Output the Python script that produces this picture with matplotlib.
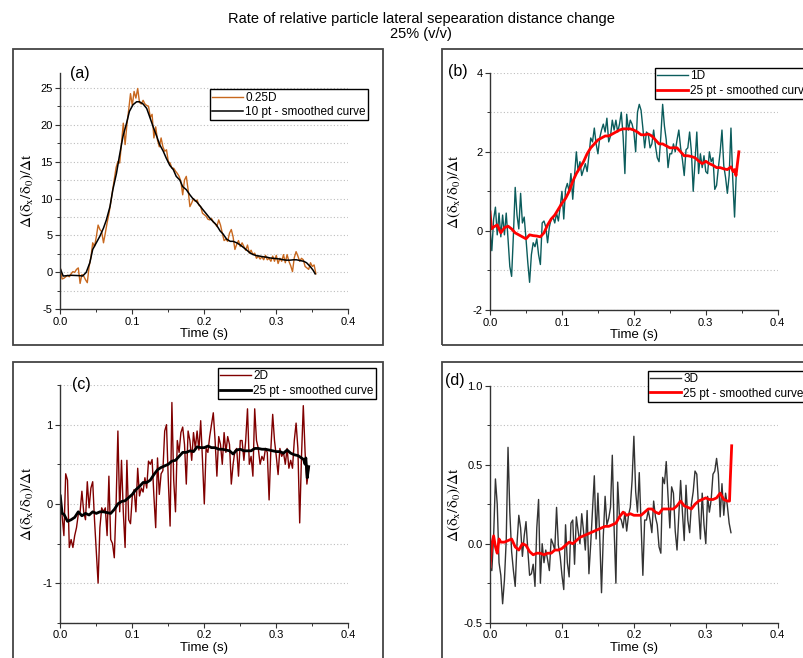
'''rate of relative particle lateral separation distance change, 4 panels
'''
import numpy as np
import matplotlib
matplotlib.use('Agg')
import matplotlib.pyplot as plt
from matplotlib.patches import Rectangle
from matplotlib.ticker import MultipleLocator, FormatStrFormatter

plt.rcParams['font.family'] = ['Liberation Sans', 'DejaVu Sans']
plt.rcParams['axes.unicode_minus'] = False
plt.rcParams['mathtext.fontset'] = 'stix'

DT = 0.0025  # sample step of the raw series (s)

# (a) 0.25D
a_raw = [0.6, -0.9, -0.8, -0.6, -0.4, -0.6, -0.2, 0.1, 0.0, 0.4,
         0.6, -1.5, -0.3, -0.5, -1.0, -1.4, 0.8, 2.0, 4.0, 3.5,
         4.8, 6.4, 5.8, 5.5, 4.0, 5.3, 6.7, 7.9, 9.4, 11.0,
         12.6, 14.2, 15.0, 14.8, 17.5, 20.2, 17.3, 20.0, 22.0, 24.2,
         22.6, 24.5, 23.6, 24.9, 23.0, 22.8, 23.3, 22.8, 22.6, 22.5,
         21.0, 21.4, 18.2, 19.7, 17.9, 17.0, 18.2, 17.0, 16.4, 16.6,
         15.0, 14.8, 14.1, 14.1, 13.7, 13.4, 13.0, 12.3, 10.5, 12.5,
         13.0, 11.2, 8.9, 9.4, 10.0, 9.6, 9.8, 9.1, 8.9, 8.0,
         7.8, 7.6, 7.2, 7.1, 7.3, 6.8, 6.6, 6.2, 7.1, 6.4,
         5.3, 4.3, 4.5, 4.2, 5.3, 5.8, 4.8, 3.1, 3.8, 4.3,
         3.5, 4.0, 3.5, 3.0, 3.7, 2.6, 3.0, 2.4, 2.6, 1.9,
         2.2, 1.8, 2.1, 1.7, 2.3, 1.7, 1.9, 1.5, 2.2, 1.5,
         2.3, 1.2, 1.9, 1.5, 2.4, 1.3, 2.4, 1.5, 0.9, 0.1,
         2.0, 2.8, 2.2, 1.5, 1.9, 1.7, 0.8, 0.6, 0.4, 1.3,
         0.8, 1.0, -0.2]
a_smooth_t = [0.0, 0.004, 0.015, 0.027, 0.031, 0.036, 0.041, 0.045, 0.05, 0.055,
              0.06, 0.064, 0.069, 0.073, 0.078, 0.082, 0.087, 0.092, 0.096, 0.101,
              0.106, 0.11, 0.115, 0.12, 0.124, 0.129, 0.134, 0.138, 0.143, 0.147,
              0.152, 0.157, 0.161, 0.166, 0.17, 0.175, 0.18, 0.184, 0.189, 0.194,
              0.198, 0.203, 0.208, 0.213, 0.217, 0.222, 0.226, 0.231, 0.236, 0.24,
              0.245, 0.25, 0.254, 0.259, 0.264, 0.268, 0.273, 0.277, 0.282, 0.287,
              0.291, 0.296, 0.301, 0.305, 0.31, 0.314, 0.319, 0.324, 0.328, 0.333,
              0.338, 0.342, 0.347, 0.351, 0.354]
a_smooth = [0.5, -0.5, -0.4, -0.45, -0.5, 0.0, 1.3, 3.1, 4.0, 4.9,
            6.0, 7.1, 8.9, 11.2, 13.4, 15.7, 18.4, 20.2, 21.8, 22.7,
            23.1, 23.1, 22.8, 22.2, 21.1, 19.7, 18.4, 17.3, 16.4, 15.5,
            14.5, 13.9, 13.0, 12.5, 11.6, 11.2, 10.5, 10.0, 9.6, 9.0,
            8.5, 7.9, 7.3, 6.8, 6.4, 5.6, 5.2, 4.5, 4.2, 4.2,
            4.0, 3.7, 3.4, 3.0, 2.6, 2.4, 2.25, 2.2, 2.1, 2.05,
            1.95, 1.9, 1.85, 1.8, 1.7, 1.65, 1.65, 1.7, 1.7, 1.6,
            1.5, 1.3, 0.8, 0.3, -0.2]

# (b) 1D
b_raw = [0.05, -0.5, 0.3, 0.6, -0.1, 0.45, -0.15, 0.4, -0.1, 0.45,
         -0.2, -0.9, -1.15, -0.1, 1.1, 0.4, 0.05, 0.95, 0.2, 0.35,
         -0.2, -0.8, -1.3, -0.6, -0.3, -0.4, -0.2, -0.6, -0.85, 0.2,
         0.25, 0.1, -0.3, 0.1, 0.3, 0.35, 0.2, 0.45, 0.25, 0.6,
         1.0, 0.3, 1.05, 1.2, 1.0, 1.45, 0.8, 1.4, 2.0, 1.5,
         1.75, 1.4, 1.55, 1.7, 1.5, 1.9, 2.35, 2.25, 2.6, 2.2,
         1.95, 2.35, 2.55, 2.7, 2.5, 2.85, 2.25, 2.4, 2.8, 2.55,
         2.8, 2.5, 2.7, 3.0, 2.4, 1.45, 2.95, 2.55, 2.8, 2.7,
         2.5, 2.0, 3.0, 3.2, 3.05, 2.6, 2.1, 2.5, 2.45, 2.1,
         2.2, 2.55, 2.15, 1.85, 1.75, 2.4, 3.2, 2.65, 2.3, 1.6,
         1.95, 1.95, 2.2, 2.0, 2.3, 2.55, 2.1, 1.8, 1.4, 2.05,
         2.1, 2.5, 2.0, 1.0, 1.75, 2.5, 1.45, 1.95, 1.6, 1.9,
         1.5, 1.45, 2.0, 1.75, 1.85, 1.05, 1.15, 1.6, 2.0, 2.55,
         1.65, 1.35, 0.95, 1.4, 2.6, 1.3, 0.35, 1.5]
b_smooth_t = [0.0, 0.002, 0.005, 0.01, 0.015, 0.02, 0.025, 0.03, 0.035, 0.04,
              0.045, 0.05, 0.055, 0.06, 0.065, 0.07, 0.075, 0.08, 0.085, 0.09,
              0.095, 0.1, 0.105, 0.11, 0.115, 0.12, 0.125, 0.13, 0.135, 0.14,
              0.145, 0.15, 0.155, 0.16, 0.165, 0.17, 0.175, 0.18, 0.185, 0.19,
              0.195, 0.2, 0.205, 0.21, 0.215, 0.22, 0.225, 0.23, 0.235, 0.24,
              0.245, 0.25, 0.255, 0.26, 0.265, 0.27, 0.275, 0.28, 0.285, 0.29,
              0.295, 0.3, 0.305, 0.31, 0.315, 0.32, 0.325, 0.33, 0.335, 0.338,
              0.34, 0.342, 0.344, 0.346]
b_smooth = [0.48, 0.05, 0.1, 0.15, -0.05, 0.08, 0.12, 0.05, -0.05, -0.1,
            -0.15, -0.2, -0.1, -0.12, -0.13, -0.15, -0.05, 0.15, 0.3, 0.4,
            0.55, 0.7, 0.82, 1.0, 1.25, 1.45, 1.6, 1.75, 1.95, 2.1,
            2.2, 2.3, 2.35, 2.4, 2.4, 2.45, 2.5, 2.55, 2.58, 2.58,
            2.58, 2.55, 2.5, 2.43, 2.43, 2.45, 2.4, 2.3, 2.2, 2.2,
            2.15, 2.1, 2.1, 2.1, 2.0, 1.9, 1.9, 1.88, 1.85, 1.77,
            1.7, 1.76, 1.7, 1.66, 1.6, 1.6, 1.57, 1.55, 1.62, 1.5,
            1.55, 1.4, 1.7, 2.0]

# (c) 2D
c_raw = [0.1, -0.15, -0.4, 0.38, 0.3, -0.55, -0.45, -0.55, -0.4, -0.3,
         -0.13, -0.1, 0.16, -0.1, -0.2, 0.28, -0.05, 0.2, 0.28, -0.2,
         -0.6, -1.0, -0.3, -0.05, -0.1, -0.05, -0.4, 0.35, -0.45, -0.5,
         -0.68, 0.0, 0.92, -0.1, 0.55, -0.1, -0.55, 0.55, -0.2, -0.25,
         0.1, 0.18, -0.1, 0.45, 0.1, 0.2, 0.15, 0.33, 0.2, 0.54,
         0.5, 0.56, 0.1, -0.3, 0.58, 0.12, 0.38, 0.42, 0.92, 1.0,
         0.3, -0.28, 1.28, 0.3, -0.1, 0.8, 0.65, 0.9, 0.97, 0.75,
         0.25, 0.92, 0.8, 0.55, 0.9, 0.7, 0.92, 0.68, 1.05, 0.55,
         0.0, 0.7, 0.65, 0.85, 1.0, 1.15, 0.8, 0.35, 0.85, 0.75,
         0.5, 0.9, 0.65, 0.85, 0.75, 0.25, 0.5, 0.67, 0.7, 0.35,
         0.8, 0.8, 0.55, 0.8, 1.2, 0.5, 0.6, 0.35, 1.2, 0.8,
         0.7, 0.5, 0.6, 0.55, 0.7, 0.65, 0.05, 0.7, 1.13, 0.8,
         0.6, 0.37, 0.7, 0.6, 0.65, 0.5, 0.7, 0.45, 0.55, 0.45,
         0.8, 1.02, 0.7, -0.24, 0.6, 1.24, 0.65, 0.25, 0.45]
c_smooth_t = [0.0, 0.0025, 0.005, 0.01, 0.015, 0.02, 0.025, 0.03, 0.035, 0.04,
              0.045, 0.05, 0.055, 0.06, 0.065, 0.07, 0.075, 0.08, 0.085, 0.09,
              0.095, 0.1, 0.105, 0.11, 0.115, 0.12, 0.125, 0.13, 0.135, 0.14,
              0.145, 0.15, 0.155, 0.16, 0.165, 0.17, 0.175, 0.18, 0.185, 0.19,
              0.195, 0.2, 0.205, 0.21, 0.215, 0.22, 0.225, 0.23, 0.235, 0.24,
              0.245, 0.25, 0.255, 0.26, 0.265, 0.27, 0.275, 0.28, 0.285, 0.29,
              0.295, 0.3, 0.305, 0.31, 0.315, 0.32, 0.325, 0.33, 0.335, 0.338,
              0.34, 0.341, 0.343, 0.345]
c_smooth = [0.1, -0.12, -0.13, -0.22, -0.2, -0.17, -0.1, -0.15, -0.12, -0.14,
            -0.1, -0.12, -0.1, -0.1, -0.11, -0.12, -0.07, 0.0, 0.03, 0.04,
            0.08, 0.12, 0.18, 0.22, 0.27, 0.27, 0.3, 0.37, 0.43, 0.46,
            0.48, 0.5, 0.54, 0.55, 0.6, 0.65, 0.65, 0.67, 0.66, 0.72,
            0.71, 0.71, 0.73, 0.71, 0.71, 0.69, 0.69, 0.68, 0.67, 0.63,
            0.68, 0.69, 0.67, 0.67, 0.67, 0.7, 0.7, 0.69, 0.69, 0.68,
            0.67, 0.66, 0.66, 0.64, 0.68, 0.64, 0.62, 0.61, 0.58, 0.56,
            0.5, 0.58, 0.33, 0.47]

# (d) 3D
d_raw = [-0.15, -0.17, 0.05, 0.41, 0.25, -0.12, -0.2, -0.38, -0.23, 0.02,
         0.61, 0.2, -0.05, -0.17, -0.27, 0.0, 0.18, 0.1, -0.08, 0.05,
         0.14, -0.04, -0.2, -0.19, -0.13, -0.27, 0.1, 0.28, -0.25, 0.0,
         -0.12, -0.04, -0.1, -0.17, 0.03, 0.0, -0.04, 0.23, -0.01, -0.08,
         -0.2, -0.29, 0.12, -0.12, -0.21, 0.13, 0.15, -0.13, 0.17, 0.08,
         0.0, 0.19, 0.08, -0.04, 0.21, -0.19, 0.0, 0.21, 0.43, 0.03,
         0.32, 0.05, -0.31, 0.05, 0.3, 0.12, 0.16, 0.23, 0.56, 0.1,
         -0.25, 0.39, 0.17, 0.15, 0.1, 0.2, 0.08, 0.18, 0.23, 0.4,
         0.68, 0.33, 0.2, 0.45, 0.12, -0.2, 0.15, 0.15, 0.21, 0.15,
         0.07, 0.27, 0.17, 0.12, -0.02, -0.06, 0.42, 0.38, 0.52, 0.3,
         0.1, 0.36, 0.32, 0.08, -0.04, 0.18, 0.4, 0.2, 0.02, 0.37,
         0.15, 0.07, 0.25, 0.33, 0.46, 0.44, 0.22, 0.03, 0.32, 0.12,
         0.0, 0.3, 0.2, 0.28, 0.44, 0.46, 0.54, 0.44, 0.17, 0.38,
         0.18, 0.32, 0.24, 0.13, 0.07]
d_smooth_t = [0.0, 0.0025, 0.005, 0.0075, 0.01, 0.0125, 0.015, 0.02, 0.025, 0.03,
              0.035, 0.04, 0.045, 0.05, 0.055, 0.06, 0.065, 0.07, 0.075, 0.08,
              0.085, 0.09, 0.095, 0.1, 0.105, 0.11, 0.115, 0.12, 0.125, 0.13,
              0.135, 0.14, 0.145, 0.15, 0.155, 0.16, 0.165, 0.17, 0.175, 0.18,
              0.185, 0.19, 0.195, 0.2, 0.205, 0.21, 0.215, 0.22, 0.225, 0.23,
              0.235, 0.24, 0.245, 0.25, 0.255, 0.26, 0.265, 0.27, 0.275, 0.28,
              0.285, 0.29, 0.295, 0.3, 0.305, 0.31, 0.315, 0.32, 0.325, 0.33,
              0.333, 0.334, 0.336]
d_smooth = [-0.15, 0.0, 0.05, -0.02, -0.06, 0.03, 0.01, 0.01, 0.02, 0.03,
            -0.02, -0.04, 0.0, -0.01, -0.05, -0.07, -0.06, -0.06, -0.07, -0.06,
            -0.06, -0.04, -0.04, -0.03, -0.01, 0.01, 0.0, 0.02, 0.04, 0.05,
            0.06, 0.07, 0.08, 0.09, 0.1, 0.11, 0.11, 0.12, 0.13, 0.17,
            0.2, 0.18, 0.19, 0.18, 0.18, 0.18, 0.2, 0.22, 0.22, 0.2,
            0.19, 0.22, 0.22, 0.22, 0.22, 0.24, 0.27, 0.24, 0.23, 0.22,
            0.25, 0.27, 0.28, 0.29, 0.28, 0.28, 0.29, 0.32, 0.28, 0.27,
            0.27, 0.4, 0.62]


def style_axes(ax, ylim, major, minor, fmt):
    ax.set_xlim(0, 0.4)
    ax.set_ylim(*ylim)
    ax.xaxis.set_major_locator(MultipleLocator(0.1))
    ax.xaxis.set_minor_locator(MultipleLocator(0.05))
    ax.xaxis.set_major_formatter(FormatStrFormatter('%.1f'))
    ax.yaxis.set_major_locator(MultipleLocator(major))
    ax.yaxis.set_minor_locator(MultipleLocator(minor))
    ax.yaxis.set_major_formatter(FormatStrFormatter(fmt))
    for s in ['top', 'right']:
        ax.spines[s].set_visible(False)
    for s in ['left', 'bottom']:
        ax.spines[s].set_color('#333333')
        ax.spines[s].set_linewidth(1.0)
    ax.tick_params(which='major', direction='out', length=3.5, width=0.8,
                   color='#333333', labelsize=8, pad=2)
    ax.tick_params(which='minor', direction='out', length=2, width=0.7,
                   color='#333333')
    ax.set_axisbelow(True)
    ax.yaxis.grid(True, which='both', linestyle=(0, (1, 2)), color='#bdbdbd', lw=0.8)
    ax.set_xlabel('Time (s)', fontsize=9.5)
    ax.set_ylabel(r'$\mathrm{\Delta(\delta_x/\delta_0)/\Delta t}$', fontsize=11)


fig = plt.figure(figsize=(8.04, 6.58), dpi=100)

fig.text(0.524, 0.982, 'Rate of relative particle lateral sepearation distance change\n25% (v/v)',
         ha='center', va='top', fontsize=10.5, linespacing=1.1)

# panel frames
for x0, y0, w, h in [(0.0162, 0.4757, 0.4602, 0.4498), (0.5494, 0.4757, 0.6, 0.4498),
                     (0.0162, -0.1, 0.4602, 0.5503), (0.5494, -0.1, 0.6, 0.5503)]:
    fig.add_artist(Rectangle((x0, y0), w, h, transform=fig.transFigure, fill=False,
                             edgecolor='#444444', lw=1.3, clip_on=False))

ax_a = fig.add_axes([0.075, 0.530, 0.3582, 0.3591])
ax_b = fig.add_axes([0.6095, 0.5289, 0.3578, 0.3606])
ax_c = fig.add_axes([0.075, 0.0536, 0.3582, 0.3612])
ax_d = fig.add_axes([0.6095, 0.0536, 0.3578, 0.3602])

leg_kw = dict(loc='upper left', fontsize=8.5, frameon=True, fancybox=False,
              edgecolor='black', framealpha=1, borderpad=0.2, labelspacing=0.2,
              handlelength=2.6, handletextpad=0.2, borderaxespad=0)

# (a)
t = np.arange(len(a_raw)) * DT
ax_a.plot(t, a_raw, color='#c8681e', lw=1.0, label='0.25D')
ax_a.plot(a_smooth_t, a_smooth, color='black', lw=1.1, label='10 pt - smoothed curve')
style_axes(ax_a, (-5, 27), 5, 2.5, '%d')
leg = ax_a.legend(bbox_to_anchor=(0.52, 0.931), **leg_kw)
leg.get_frame().set_linewidth(1.0)
ax_a.text(0.034, 0.996, '(a)', transform=ax_a.transAxes, fontsize=11.5, va='center')
ax_a.yaxis.set_label_coords(-0.085, 0.5)
ax_a.xaxis.set_label_coords(0.5, -0.08)

# (b)
t = np.arange(len(b_raw)) * DT
ax_b.plot(t, b_raw, color='#0b5c5c', lw=1.0, label='1D')
ax_b.plot(b_smooth_t, b_smooth, color='#ff0000', lw=2.0, label='25 pt - smoothed curve')
style_axes(ax_b, (-2, 4), 2, 1, '%d')
leg = ax_b.legend(bbox_to_anchor=(0.5735, 1.02), **leg_kw)
leg.get_frame().set_linewidth(1.0)
ax_b.text(-0.146, 1.003, '(b)', transform=ax_b.transAxes, fontsize=11.5, va='center')
ax_b.yaxis.set_label_coords(-0.094, 0.5)
ax_b.xaxis.set_label_coords(0.5, -0.08)

# (c)
t = np.arange(len(c_raw)) * DT
ax_c.plot(t, c_raw, color='#800000', lw=1.0, label='2D')
ax_c.plot(c_smooth_t, c_smooth, color='black', lw=2.0, label='25 pt - smoothed curve')
style_axes(ax_c, (-1.5, 1.5), 1, 0.5, '%d')
leg = ax_c.legend(bbox_to_anchor=(0.5476, 1.0715), **leg_kw)
leg.get_frame().set_linewidth(1.0)
ax_c.text(0.04, 1.004, '(c)', transform=ax_c.transAxes, fontsize=11.5, va='center')
ax_c.yaxis.set_label_coords(-0.085, 0.5)
ax_c.xaxis.set_label_coords(0.5, -0.08)

# (d)
t = np.arange(len(d_raw)) * DT
ax_d.plot(t, d_raw, color='#333333', lw=1.0, label='3D')
ax_d.plot(d_smooth_t, d_smooth, color='#ff0000', lw=2.0, label='25 pt - smoothed curve')
style_axes(ax_d, (-0.5, 1.0), 0.5, 0.25, '%.1f')
leg = ax_d.legend(bbox_to_anchor=(0.549, 1.063), **leg_kw)
leg.get_frame().set_linewidth(1.0)
ax_d.text(-0.156, 1.02, '(d)', transform=ax_d.transAxes, fontsize=11.5, va='center')
ax_d.yaxis.set_label_coords(-0.094, 0.5)
ax_d.xaxis.set_label_coords(0.5, -0.08)

plt.savefig('out.png', dpi=100)
